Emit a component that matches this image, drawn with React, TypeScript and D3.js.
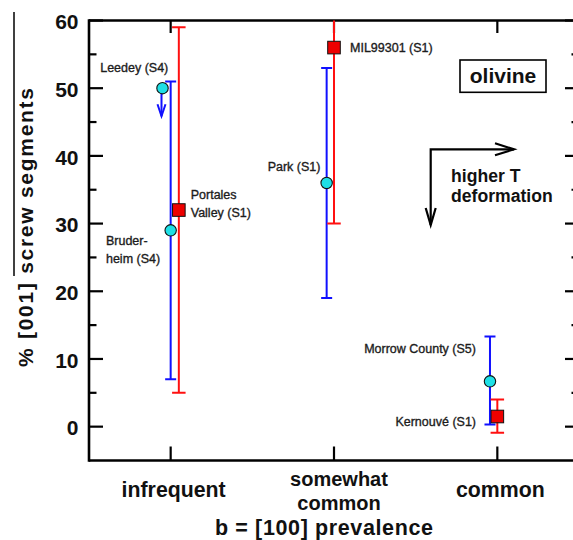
import React from "react";
import * as d3 from "d3";

// ---- data ----
const categories = [["infrequent"], ["somewhat", "common"], ["common"]];
const categoryPos = [1, 2, 3];
const yMajorTicks = [0, 10, 20, 30, 40, 50, 60];
const yMinorTicks = [5, 15, 25, 35, 45, 55];

// cyan circles (blue error bars)
const blueNames = ["Leedey (S4)", "Bruderheim (S4)", "Park (S1)", "Morrow County (S5)"];
const blueX = [0.95, 1.0, 1.955, 2.955];
const blueY = [50, 29, 36, 6.7];
const blueLow = [null, 7, 19, 0.3];
const blueHigh = [null, 51, 53, 13.3];
const blueUpperLimit = [true, false, false, false];

// red squares (red error bars)
const redNames = ["Portales Valley (S1)", "MIL99301 (S1)", "Kernouvé (S1)"];
const redX = [1.05, 2.0, 3.0];
const redY = [32, 56, 1.5];
const redLow = [5, 30, -0.9];
const redHigh = [59, 70, 4.0];

const W = 573;
const H = 540;
const FONT = "'Liberation Sans', Arial, Helvetica, sans-serif";

export default function App() {
  const left = 89;
  const right = 579;
  const top = 20.5;
  const bottom = 460.5;
  const x = d3.scaleLinear().domain([0.5, 3.5]).range([left, right]);
  const y = d3.scaleLinear().domain([-5, 60]).range([bottom, top]);

  const blue = "#1010ff";
  const red = "#ff1010";
  const cyan = "#1ee0e6";
  const sq = "#ee0000";
  const labelColor = "#1c1c1c";
  const lw = 2;

  const errorBar = (xv: number, lo: number, hi: number, color: string, cap: number, key: string) => {
    const cx = x(xv);
    return (
      <g key={key} stroke={color} strokeWidth={lw}>
        <line x1={cx} x2={cx} y1={y(lo)} y2={y(hi)} />
        <line x1={cx - cap / 2} x2={cx + cap / 2} y1={y(lo)} y2={y(lo)} />
        <line x1={cx - cap / 2} x2={cx + cap / 2} y1={y(hi)} y2={y(hi)} />
      </g>
    );
  };

  // label helper (offsets relative to the data mark)
  const lbl = (
    px: number,
    py: number,
    dx: number,
    dy: number,
    lines: string[],
    anchor: string,
    key: string
  ) => (
    <text
      key={key}
      x={px + dx}
      y={py + dy}
      textAnchor={anchor}
      fontFamily={FONT}
      fontSize={12.5}
      fill={labelColor}
      stroke={labelColor}
      strokeWidth={0.35}
    >
      {lines.map((l, i) => (
        <tspan key={i} x={px + dx} dy={i === 0 ? 0 : 18}>
          {l}
        </tspan>
      ))}
    </text>
  );

  const bp = blueX.map((v, i) => [x(v), y(blueY[i])]);
  const rp = redX.map((v, i) => [x(v), y(redY[i])]);

  return (
    <svg
      width={W}
      height={H}
      style={{ position: "absolute", left: 0, top: 0, background: "#fff" }}
    >
      <defs>
        <clipPath id="plotclip">
          <rect x={left} y={top} width={right - left} height={bottom - top} />
        </clipPath>
      </defs>
      <rect x={0} y={0} width={W} height={H} fill="#fff" />

      {/* ticks */}
      <g stroke="#000" strokeWidth={2.2}>
        {yMajorTicks.map((t) => (
          <g key={"M" + t}>
            <line x1={left} x2={left + 14} y1={y(t)} y2={y(t)} />
            <line x1={right} x2={right - 14} y1={y(t)} y2={y(t)} />
          </g>
        ))}
        {yMinorTicks.map((t) => (
          <g key={"m" + t}>
            <line x1={left} x2={left + 7.5} y1={y(t)} y2={y(t)} />
            <line x1={right} x2={right - 7.5} y1={y(t)} y2={y(t)} />
          </g>
        ))}
        {categoryPos.map((c) => (
          <g key={"c" + c}>
            <line x1={x(c)} x2={x(c)} y1={top} y2={top + 12.5} />
            <line x1={x(c)} x2={x(c)} y1={bottom} y2={bottom - 14} />
          </g>
        ))}
      </g>

      {/* frame */}
      <g stroke="#000" strokeWidth={2.6} fill="none">
        <line x1={left} x2={left} y1={top - 1.3} y2={bottom + 1.3} />
        <line x1={left} x2={right} y1={top} y2={top} />
        <line x1={left} x2={right} y1={bottom} y2={bottom} />
        <line x1={right} x2={right} y1={top} y2={bottom} />
      </g>

      {/* y tick labels */}
      {yMajorTicks.map((t) => (
        <text
          key={"yl" + t}
          x={78.5}
          y={y(t) + 8.8}
          textAnchor="end"
          fontFamily={FONT}
          fontWeight="bold"
          fontSize={21}
          fill="#111"
        >
          {t}
        </text>
      ))}

      {/* y title */}
      <text
        transform={`translate(33,227.5) rotate(-90)`}
        textAnchor="middle"
        fontFamily={FONT}
        fontWeight="bold"
        fontSize={21}
        fill="#111"
        textLength={279}
        lengthAdjust="spacing"
      >
        % [001] screw segments
      </text>
      <line x1={14} x2={14} y1={12} y2={276} stroke="#000" strokeWidth={1.5} />

      {/* x category labels */}
      {categories.map((lines, i) => {
        const cx = x(categoryPos[i]) + (i === 1 ? 5 : 3);
        const y0 = lines.length > 1 ? 486 : 496.5;
        return (
          <text
            key={"xl" + i}
            textAnchor="middle"
            fontFamily={FONT}
            fontWeight="bold"
            fontSize={lines.length > 1 ? 20 : 21.3}
            fill="#111"
          >
            {lines.map((l, j) => (
              <tspan key={j} x={cx} y={y0 + j * 23.5}>
                {l}
              </tspan>
            ))}
          </text>
        );
      })}
      <text
        x={324}
        y={534.5}
        textAnchor="middle"
        fontFamily={FONT}
        fontWeight="bold"
        fontSize={21.5}
        fill="#111"
        textLength={218}
        lengthAdjust="spacing"
      >
        b = [100] prevalence
      </text>

      {/* olivine box */}
      <rect x={460} y={60} width={86} height={32.3} fill="#fff" stroke="#000" strokeWidth={1.6} />
      <text
        x={503}
        y={83.3}
        textAnchor="middle"
        fontFamily={FONT}
        fontWeight="bold"
        fontSize={21}
        fill="#111"
      >
        olivine
      </text>

      {/* higher T arrow */}
      <g stroke="#000" strokeWidth={2.2} fill="none">
        <polyline points="430.7,225 430.7,149.3 514,149.3" />
        <polyline points="495,143.3 514,149.3 495,155.3" />
        <polyline points="425.7,208 430.7,225 435.7,208" />
      </g>
      <text fontFamily={FONT} fontWeight="bold" fontSize={17.6} fill="#111">
        <tspan x={451} y={181.7}>higher T</tspan>
        <tspan x={451} y={201.7}>deformation</tspan>
      </text>

      {/* data */}
      <g clipPath="url(#plotclip)">
        {blueX.map((v, i) =>
          blueLow[i] !== null
            ? errorBar(v, blueLow[i] as number, blueHigh[i] as number, blue, 11, "be" + i)
            : null
        )}
        {redX.map((v, i) => errorBar(v, redLow[i], redHigh[i], red, 13.5, "re" + i))}
        {blueX.map((v, i) =>
          blueUpperLimit[i] ? (
            <g key={"ar" + i} stroke={blue} strokeWidth={lw} fill="none">
              <line x1={x(v) - 1} x2={x(v) - 1} y1={y(blueY[i]) + 5} y2={y(blueY[i]) + 28} />
              <polyline
                points={`${x(v) - 5},${y(blueY[i]) + 16} ${x(v) - 1},${y(blueY[i]) + 28} ${x(v) + 3},${y(blueY[i]) + 16}`}
              />
            </g>
          ) : null
        )}
        {redX.map((v, i) => (
          <rect
            key={"rs" + i}
            x={x(v) - 6.3}
            y={y(redY[i]) - 6.3}
            width={12.6}
            height={12.6}
            fill={sq}
            stroke="#111"
            strokeWidth={1}
          />
        ))}
        {blueX.map((v, i) => (
          <circle
            key={"bc" + i}
            cx={x(v)}
            cy={y(blueY[i])}
            r={5.7}
            fill={cyan}
            stroke="#111"
            strokeWidth={1.1}
          />
        ))}
      </g>

      {/* point labels */}
      {lbl(bp[0][0], bp[0][1], -62.3, -15.8, [blueNames[0]], "start", "l0")}
      {lbl(bp[1][0], bp[1][1], -64.7, 14.7, ["Bruder-", "heim (S4)"], "start", "l1")}
      {lbl(bp[2][0], bp[2][1], -6.2, -12.4, [blueNames[2]], "end", "l2")}
      {lbl(bp[3][0], bp[3][1], -14, -27.9, [blueNames[3]], "end", "l3")}
      {lbl(rp[0][0], rp[0][1], 11.9, -11, ["Portales", "Valley (S1)"], "start", "l4")}
      {lbl(rp[1][0], rp[1][1], 16, 4, [redNames[1]], "start", "l5")}
      {lbl(rp[2][0], rp[2][1], -21.3, 9.6, [redNames[2]], "end", "l6")}
    </svg>
  );
}
